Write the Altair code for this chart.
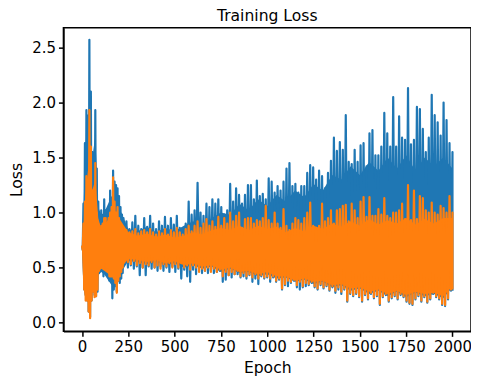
import altair as alt
import pandas as pd

epochs = list(range(0, 240, 8)) + list(range(240, 2001, 16))

blue_hi = [.70,1.08,1.63,1.93,1.88,2.57,2.10,1.55,1.45,1.93,1.40,1.10,.95,1.02,.97,1.12,1.02,.95,1.00,1.20,1.05,1.38,1.28,1.25,1.22,1.15,1.05,.98,.95,.88,
 .92,.85,.91,.97,.88,.85,.95,.87,.97,.90,.85,.92,.88,.96,.88,.95,.89,.97,.86,.84,.90,1.10,.98,1.02,1.27,1.00,.97,1.08,1.05,1.12,1.08,1.12,1.05,.98,1.02,1.26,1.10,1.22,
 1.16,1.08,1.16,1.25,1.25,1.12,1.29,1.15,1.17,1.12,1.31,1.28,1.18,1.24,1.20,1.28,1.40,1.45,1.24,1.26,1.18,1.24,1.24,1.36,1.43,1.41,1.30,1.38,1.33,1.22,1.36,1.47,
 1.68,1.56,1.64,1.57,1.885,1.46,1.44,1.57,1.46,1.61,1.63,1.42,1.72,1.75,1.52,1.52,1.60,1.905,1.72,1.60,2.05,1.60,1.875,1.68,1.66,2.13,1.62,1.66,1.96,1.94,1.76,1.55,1.68,2.07,1.885,1.82,1.70,2.00,1.84,1.63,1.55]

blue_lo = [.66,.30,.25,.20,.10,.05,.20,.28,.25,.24,.28,.45,.50,.48,.42,.45,.50,.47,.38,.40,.22,.30,.33,.28,.38,.36,.40,.45,.53,.55,
 .50,.52,.49,.51,.43,.50,.43,.51,.49,.50,.47,.51,.47,.50,.46,.51,.46,.49,.40,.48,.42,.37,.48,.44,.50,.45,.47,.45,.47,.45,.46,.47,.37,.39,.43,.41,.44,.44,
 .41,.42,.40,.43,.37,.40,.35,.42,.40,.41,.37,.41,.37,.39,.30,.34,.33,.36,.38,.32,.30,.32,.33,.34,.36,.32,.30,.34,.31,.33,.29,.32,.27,.30,.26,.30,.19,
 .26,.24,.26,.23,.19,.25,.21,.26,.22,.24,.16,.23,.25,.19,.22,.24,.21,.25,.23,.19,.17,.16,.21,.24,.19,.23,.18,.21,.26,.23,.21,.16,.15,.21,.29,.29]

orange_hi = [.70,.90,1.10,1.33,1.20,1.93,1.60,1.20,1.10,1.45,1.00,.90,.85,.88,.90,.95,.95,.90,.95,1.00,1.05,1.32,1.10,1.00,1.05,.95,.90,.87,.83,.82,
 .84,.82,.83,.85,.81,.83,.84,.82,.85,.82,.80,.83,.81,.85,.80,.84,.82,.86,.82,.80,.85,.88,.83,.88,.92,.86,.90,.94,.88,.92,.87,.96,.88,.95,.90,1.00,.92,.97,
 1.00,.86,.94,.95,.95,.90,.93,.92,.95,1.06,.93,.90,1.00,.90,.86,1.03,.88,.84,.90,.95,.93,.90,.95,1.00,1.09,.88,.86,.88,1.08,.92,.95,1.02,.90,1.02,1.03,1.06,1.07,
 .92,1.08,1.02,.95,1.10,1.14,.96,1.14,.97,.97,1.03,.98,1.13,.97,.95,1.00,1.00,1.02,1.08,.94,1.25,.93,1.20,.94,1.15,1.13,1.02,1.00,1.09,1.00,.98,1.06,1.04,1.00,1.15,1.00]

orange_lo = [.66,.30,.20,.20,.10,.04,.20,.28,.23,.24,.30,.47,.52,.50,.50,.55,.50,.50,.42,.42,.42,.40,.36,.27,.38,.42,.46,.50,.55,.58,
 .55,.53,.56,.52,.54,.50,.53,.52,.55,.50,.52,.49,.53,.51,.54,.50,.53,.50,.54,.50,.52,.48,.52,.50,.46,.49,.47,.50,.46,.49,.46,.48,.42,.46,.43,.46,.44,.47,
 .42,.45,.42,.44,.41,.44,.40,.43,.41,.42,.40,.42,.38,.40,.31,.35,.38,.37,.39,.34,.37,.33,.36,.35,.37,.33,.31,.35,.32,.34,.30,.33,.29,.32,.28,.31,.20,
 .27,.25,.27,.24,.20,.26,.22,.27,.23,.25,.17,.24,.26,.20,.23,.25,.22,.26,.24,.20,.18,.17,.22,.25,.20,.24,.19,.22,.27,.24,.22,.17,.16,.22,.30,.30]

# dense body of each trace (where the oscillation is solid colour)
body_epochs = [0,8,16,24,40,56,72,88,104,120,160,200,
 250,300,350,400,450,500,550,600,650,700,750,800,850,900,950,1000,1050,1100,1150,1200,1250,1300,1350,1400,1450,1500,1550,1600,1650,1700,1750,1800,1850,1900,1950,2000]
blue_top = [.70,1.00,1.50,1.75,1.90,1.50,1.70,1.05,.98,1.00,1.15,1.05,
 .85,.83,.87,.82,.86,.83,.88,.92,.88,.95,1.00,.98,1.08,1.02,1.12,1.06,1.16,1.10,1.20,1.14,1.26,1.20,1.34,1.30,1.42,1.34,1.46,1.38,1.50,1.40,1.52,1.38,1.50,1.42,1.50,1.40]
blue_bot = [.66,.32,.25,.22,.15,.28,.26,.43,.46,.44,.34,.42,
 .56,.55,.53,.55,.52,.54,.50,.52,.49,.51,.46,.49,.45,.46,.42,.44,.40,.41,.37,.39,.35,.37,.32,.34,.29,.31,.26,.29,.24,.28,.23,.27,.24,.26,.22,.32]
orange_top = [.70,.85,1.10,1.25,1.50,1.20,1.30,.95,.85,.87,1.00,.95,
 .82,.79,.81,.78,.80,.77,.79,.82,.80,.84,.86,.84,.88,.84,.88,.85,.87,.82,.86,.83,.88,.85,.90,.87,.92,.88,.94,.89,.93,.90,.95,.89,.94,.90,.95,.95]
orange_bot = [.66,.32,.24,.22,.15,.30,.27,.45,.49,.47,.42,.47,
 .58,.57,.55,.57,.54,.56,.52,.54,.51,.52,.48,.50,.46,.47,.44,.46,.42,.42,.38,.40,.37,.38,.34,.35,.31,.32,.28,.30,.26,.29,.25,.28,.26,.27,.24,.33]

x_ticks = [0, 250, 500, 750, 1000, 1250, 1500, 1750, 2000]
y_ticks = [0.0, 0.5, 1.0, 1.5, 2.0, 2.5]


def zigzag(hi, lo):
    rows = []
    for i, e in enumerate(epochs):
        half = (epochs[i + 1] - e) / 2 if i + 1 < len(epochs) else 0
        rows.append({"epoch": e, "loss": hi[i], "seq": 2 * i})
        rows.append({"epoch": e + half, "loss": lo[i], "seq": 2 * i + 1})
    return pd.DataFrame(rows)


x = alt.X("epoch:Q", scale=alt.Scale(domain=[-100, 2100], nice=False, zero=False),
          axis=alt.Axis(title="Epoch", values=x_ticks, format="d", grid=False, titlePadding=6))
y = alt.Y("loss:Q", scale=alt.Scale(domain=[-0.08, 2.68], nice=False, zero=False),
          axis=alt.Axis(title="Loss", values=y_ticks, format=".1f", grid=False, titlePadding=7))


def trace(hi, lo, top, bot, color):
    body = pd.DataFrame({"epoch": body_epochs, "loss": top, "bot": bot})
    return [
        alt.Chart(body).mark_area(color=color, opacity=1).encode(x=x, y=y, y2="bot:Q"),
        alt.Chart(zigzag(hi, lo)).mark_line(
            color=color, strokeWidth=2.2, strokeJoin="round", clip=True
        ).encode(x=x, y=y, order="seq:Q"),
    ]


chart = alt.layer(
    *trace(blue_hi, blue_lo, blue_top, blue_bot, "#1f77b4"),
    *trace(orange_hi, orange_lo, orange_top, orange_bot, "#ff7f0e"),
).properties(
    width=408,
    height=304,
    title=alt.TitleParams("Training Loss", font="DejaVu Sans", fontSize=15.6, fontWeight="normal",
                          color="black", offset=3, anchor="middle"),
    autosize=alt.AutoSizeParams(type="none"),
    padding={"left": 55.5, "top": 19.5, "right": 0, "bottom": 44},
).configure_view(stroke="black", strokeWidth=1.5).configure_axis(
    domainColor="black", domainWidth=1.5, tickColor="black", tickWidth=1.5, tickSize=5,
    labelFont="DejaVu Sans", labelFontSize=15, labelColor="black", labelPadding=3,
    titleFont="DejaVu Sans", titleFontSize=15.6, titleFontWeight="normal", titleColor="black",
)

chart.save("out.html", embed_options={"renderer": "svg", "actions": False})
